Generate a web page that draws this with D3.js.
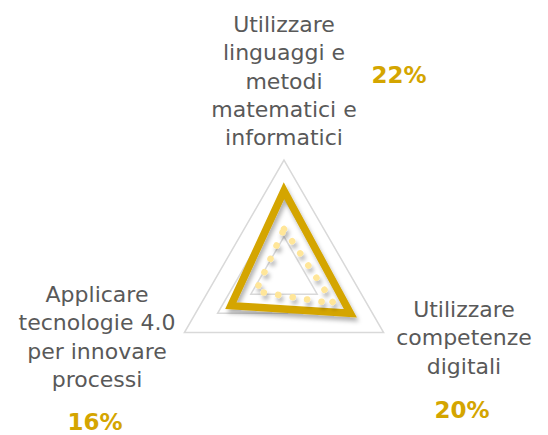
<!DOCTYPE html>
<html>
<head>
<meta charset="utf-8">
<script src="https://cdn.jsdelivr.net/npm/d3@7"></script>
<style>
  body { margin: 0; background: #fff; }
  svg { display: block; }
</style>
</head>
<body>
<script>
// Chart data
const categories = [
  ["Utilizzare", "linguaggi e", "metodi", "matematici e", "informatici"],
  ["Utilizzare", "competenze", "digitali"],
  ["Applicare", "tecnologie 4.0", "per innovare", "processi"]
];
const mainValues = [22, 20, 16];      // thick gold series
const innerValues = [12, 15, 8.5];    // dotted series
const gridTicks = [10, 20, 30];
const pctLabels = ["22%", "20%", "16%"];

const W = 548, H = 435;
const cx = 284, cy = 275, R = 115;

const svg = d3.select("body").append("svg")
    .attr("width", W)
    .attr("height", H);

// soft drop shadow for the series lines
const defs = svg.append("defs");
const f = defs.append("filter").attr("id", "shadow")
    .attr("x", "-20%").attr("y", "-20%").attr("width", "140%").attr("height", "140%");
f.append("feDropShadow")
    .attr("dx", 2).attr("dy", 4).attr("stdDeviation", 2)
    .attr("flood-color", "#000").attr("flood-opacity", 0.3);

const g = svg.append("g").attr("transform", `translate(${cx},${cy})`);

const angle = d3.scalePoint()
    .domain(d3.range(categories.length))
    .range([0, 2 * Math.PI * (categories.length - 1) / categories.length]);

const r = d3.scaleLinear().domain([0, 30]).range([0, R]);

const radial = d3.lineRadial()
    .angle((d, i) => angle(i))
    .radius(d => r(d))
    .curve(d3.curveLinearClosed);

// grid triangles
g.selectAll(".grid")
  .data(gridTicks)
  .enter().append("path")
    .attr("class", "grid")
    .attr("d", t => radial(categories.map(() => t)))
    .attr("fill", "none")
    .attr("stroke", "#d9d9d9")
    .attr("stroke-width", 1.5);

// main series
g.append("path")
    .attr("d", radial(mainValues))
    .attr("fill", "none")
    .attr("stroke", "#d4a500")
    .attr("stroke-width", 7.5)
    .attr("stroke-linejoin", "miter")
    .attr("filter", "url(#shadow)");

// dotted series
g.append("path")
    .attr("d", radial(innerValues))
    .attr("fill", "none")
    .attr("stroke", "#ffe699")
    .attr("stroke-width", 6.5)
    .attr("stroke-linecap", "round")
    .attr("stroke-dasharray", "0.1 14.5")
    .attr("filter", "url(#shadow)");

// labels
const labelLayout = [
  { x: 284, y: 32, px: 399, py: 83 },
  { x: 464, y: 317, px: 462, py: 418 },
  { x: 97, y: 302, px: 95, py: 430 }
];

categories.forEach((lines, i) => {
  const L = labelLayout[i];
  const t = svg.append("text")
      .attr("x", L.x).attr("y", L.y)
      .attr("text-anchor", "middle")
      .attr("font-family", "'DejaVu Sans', sans-serif")
      .attr("font-size", 22)
      .attr("fill", "#595959");
  lines.forEach((s, j) => {
    t.append("tspan").attr("x", L.x).attr("y", L.y + j * 28.3).text(s);
  });
  svg.append("text")
      .attr("x", L.px).attr("y", L.py)
      .attr("text-anchor", "middle")
      .attr("font-family", "'DejaVu Sans', sans-serif")
      .attr("font-weight", "bold")
      .attr("font-size", 23)
      .attr("fill", "#d4a500")
      .text(pctLabels[i]);
});
</script>
</body>
</html>
